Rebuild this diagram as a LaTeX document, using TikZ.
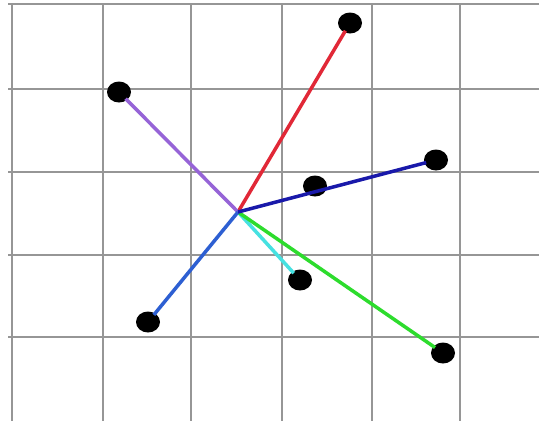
\documentclass[tikz,border=0pt]{standalone}
\usetikzlibrary{shapes.geometric}
\definecolor{gridgray}{RGB}{150,150,150}
\definecolor{cred}{RGB}{225,40,55}
\definecolor{cpurple}{RGB}{150,100,215}
\definecolor{cdblue}{RGB}{25,25,170}
\definecolor{ccyan}{RGB}{70,225,225}
\definecolor{cgreen}{RGB}{45,220,45}
\definecolor{csblue}{RGB}{45,95,210}
\begin{document}
\begin{tikzpicture}[x=1pt,y=-1pt,
  gridline/.style={draw=gridgray,line width=1.3pt},
  dot/.style={ellipse,fill=black,minimum width=24pt,minimum height=21pt,inner sep=0pt},
  spoke/.style={line width=3.5pt,shorten >=-2pt}]
\useasboundingbox (0,0) rectangle (539,421);
\fill[white] (0,0) rectangle (539,421);
% grid
\foreach \x in {12,103,191,282,372,460} \draw[gridline] (\x,4) -- (\x,421);
\foreach \y in {4,89,172,255,337} \draw[gridline] (8,\y) -- (539,\y);
% center and dots
\coordinate (c) at (238,212);
\node[dot] (r) at (350,23) {};
\node[dot] (p) at (119,92) {};
\node[dot] (b) at (436,160) {};
\node[dot] (m) at (315,186) {};
\node[dot] (cy) at (300,280) {};
\node[dot] (s) at (148,322) {};
\node[dot] (g) at (443,353) {};
\draw[spoke,cred] (c) -- (r);
\draw[spoke,cpurple] (c) -- (p);
\draw[spoke,ccyan] (c) -- (cy);
\draw[spoke,cgreen] (c) -- (g);
\draw[spoke,csblue] (c) -- (s);
\draw[spoke,cdblue] (c) -- (b);
\end{tikzpicture}
\end{document}
